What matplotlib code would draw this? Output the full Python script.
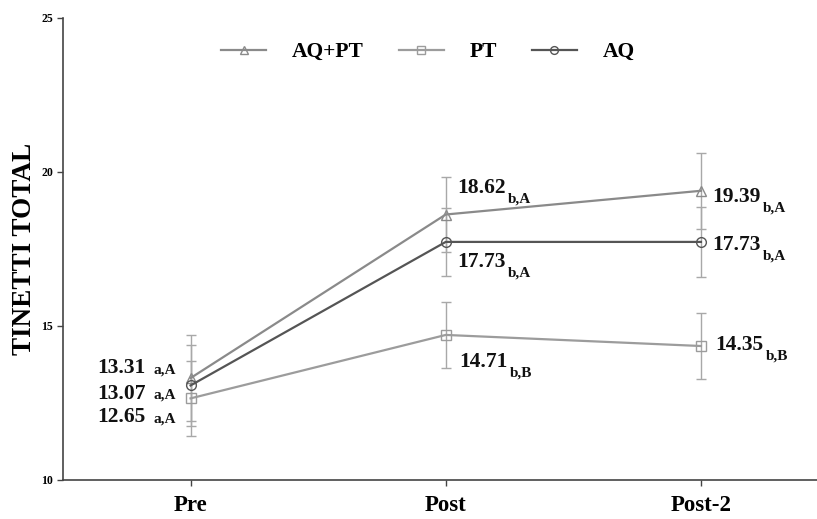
import matplotlib
matplotlib.use("Agg")
import matplotlib.pyplot as plt

# ---- data ----
timepoints = ["Pre", "Post", "Post-2"]
series_names = ["AQ+PT", "PT", "AQ"]
aqpt_mean = [13.31, 18.62, 19.39]
aqpt_sd = [1.40, 1.23, 1.24]
pt_mean = [12.65, 14.71, 14.35]
pt_sd = [1.21, 1.06, 1.07]
aq_mean = [13.07, 17.73, 17.73]
aq_sd = [1.31, 1.11, 1.14]
aqpt_letters = ["a,A", "b,A", "b,A"]
pt_letters = ["a,A", "b,B", "b,B"]
aq_letters = ["a,A", "b,A", "b,A"]
y_ticks = [10, 15, 20, 25]

plt.rcParams['font.family'] = ['Liberation Serif', 'DejaVu Serif']
plt.rcParams['font.weight'] = 'bold'

fig = plt.figure(figsize=(8.17, 5.19), dpi=100)
W, H = 817, 519
ax = fig.add_axes([63 / W, 1 - 480 / H, 1 - 63 / W, (480 - 18) / H])

x = list(range(len(timepoints)))
styles = [
    (aqpt_mean, aqpt_sd, aqpt_letters, '#8a8a8a', '^'),
    (pt_mean, pt_sd, pt_letters, '#9c9c9c', 's'),
    (aq_mean, aq_sd, aq_letters, '#555555', 'o'),
]

handles = []
for (m, s, let, col, mk), name in zip(styles, series_names):
    ax.errorbar(x, m, yerr=s, fmt='none', ecolor='#a8a8a8', elinewidth=1.0,
                capsize=3.5, capthick=1.0, zorder=2)
    h, = ax.plot(x, m, color=col, lw=1.6, marker=mk, markersize=7,
                 markerfacecolor='none', markeredgecolor=col, markeredgewidth=1.0,
                 zorder=3, label=name)
    handles.append(h)

px = 0.72  # pixel -> points at 100 dpi

# label offsets in pixels (dx of main text, dy of baseline; positive = up)
offsets = {
    0: [None, (11, 21.5), (11, -11)],
    1: [None, (13, -32), (14, -4)],
    2: [None, (11, -25), (11, -8)],
}
pre_dy = {0: 5, 1: -24, 2: -13.5}

for i, (m, s, let, col, mk) in enumerate(styles):
    for j in range(len(x)):
        v = m[j]
        if j == 0:
            dy = pre_dy[i]
            ax.annotate(f"{v:.2f}", xy=(x[j], v), xytext=(-45 * px, dy * px),
                        textcoords='offset points', ha='right', va='baseline',
                        fontsize=15.5, fontweight='bold', color='#111111')
            ax.annotate(let[j], xy=(x[j], v), xytext=(-37 * px, dy * px),
                        textcoords='offset points', ha='left', va='baseline',
                        fontsize=11, fontweight='bold', color='#111111')
        else:
            dx, dy = offsets[i][j]
            t = ax.annotate(f"{v:.2f}", xy=(x[j], v), xytext=(dx * px, dy * px),
                            textcoords='offset points', ha='left', va='baseline',
                            fontsize=15.5, fontweight='bold', color='#111111')
            ax.annotate(let[j], xy=(1, 0), xycoords=t, xytext=(3 * px, -4.5 * px),
                        textcoords='offset points', ha='left', va='baseline',
                        fontsize=11, fontweight='bold', color='#111111')

ax.set_xlim(-0.5, (W - 191) / 255)
ax.set_ylim(10, 25)
ax.set_yticks(y_ticks)
ax.set_yticklabels([str(t) for t in y_ticks], fontsize=8.5, fontweight='bold')
ax.set_xticks(x)
ax.set_xticklabels(timepoints, fontsize=16.5, fontweight='bold')
ax.tick_params(axis='both', direction='out', length=4, width=1.0, color='#444444')
ax.tick_params(axis='x', pad=7)
ax.tick_params(axis='y', pad=3)
ax.set_ylabel("TINETTI TOTAL", fontsize=19.5, fontweight='bold', labelpad=3)

for sp in ['top', 'right']:
    ax.spines[sp].set_visible(False)
for sp in ['left', 'bottom']:
    ax.spines[sp].set_color('#444444')
    ax.spines[sp].set_linewidth(1.2)

ax.legend(handles=handles, loc='center', bbox_to_anchor=(0.484, 0.926), ncol=3,
          frameon=False, prop={'family': 'Liberation Serif', 'weight': 'bold', 'size': 15.5},
          handlelength=2.1, handletextpad=1.2, columnspacing=1.6, markerscale=0.8)

fig.savefig("out.png", dpi=100)
